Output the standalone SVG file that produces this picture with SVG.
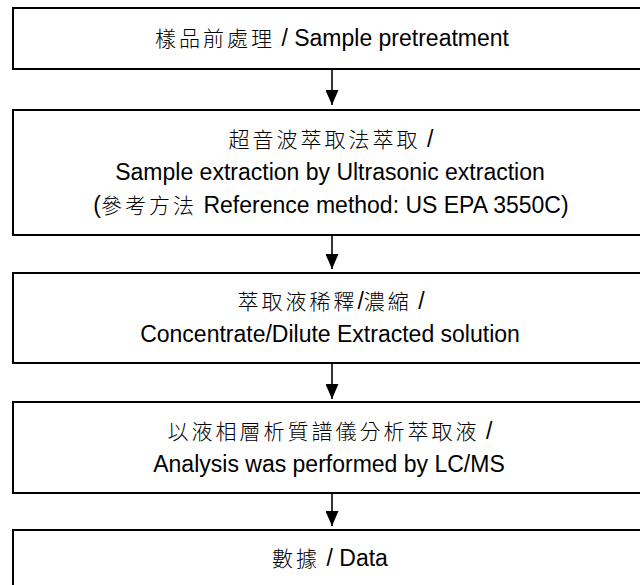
<svg xmlns="http://www.w3.org/2000/svg" width="640" height="585" viewBox="0 0 640 585">
<style>
.box{fill:#fff;stroke:#000;stroke-width:2}
.t{font-family:"Liberation Sans",Arial,"Noto Sans CJK TC",sans-serif;font-size:23px;fill:#000;text-anchor:middle}
.c{font-family:"Noto Sans CJK TC","Noto Sans CJK SC",sans-serif;font-size:21px;letter-spacing:3px;font-weight:300}
.ln{stroke:#000;stroke-width:1.6;fill:none}
</style>
<defs>
<marker id="ah" viewBox="0 0 15 13" refX="15" refY="6.5" markerWidth="15" markerHeight="13" markerUnits="userSpaceOnUse" orient="auto">
<path d="M0,0 L15,6.5 L0,13 Z" fill="#000"/>
</marker>
</defs>
<rect width="640" height="585" fill="#fff"/>
<g id="n1">
<rect class="box" x="13" y="8" width="640" height="61"/>
<text class="t" x="332" y="46"><tspan class="c">樣品前處理</tspan> / Sample pretreatment</text>
</g>
<g id="n2">
<rect class="box" x="13" y="110" width="640" height="125"/>
<text class="t" x="331" y="147"><tspan class="c">超音波萃取法萃取</tspan> /</text>
<text class="t" x="330" y="180">Sample extraction by Ultrasonic extraction</text>
<text class="t" x="331" y="213">(<tspan class="c">參考方法</tspan> Reference method: US EPA 3550C)</text>
</g>
<g id="n3">
<rect class="box" x="13" y="273" width="640" height="90"/>
<text class="t" x="331" y="309"><tspan class="c">萃取液稀釋</tspan>/<tspan class="c">濃縮</tspan> /</text>
<text class="t" x="330" y="342">Concentrate/Dilute Extracted solution</text>
</g>
<g id="n4">
<rect class="box" x="13" y="402" width="640" height="91"/>
<text class="t" x="330" y="439"><tspan class="c">以液相層析質譜儀分析萃取液</tspan> /</text>
<text class="t" x="329" y="472">Analysis was performed by LC/MS</text>
</g>
<g id="n5">
<rect class="box" x="13" y="530" width="640" height="80"/>
<text class="t" x="330" y="566"><tspan class="c">數據</tspan> / Data</text>
</g>
<g id="connectors">
<line class="ln" x1="332" y1="69" x2="332" y2="105" marker-end="url(#ah)"/>
<line class="ln" x1="332" y1="235" x2="332" y2="269" marker-end="url(#ah)"/>
<line class="ln" x1="332" y1="363" x2="332" y2="399" marker-end="url(#ah)"/>
<line class="ln" x1="332" y1="493" x2="332" y2="526" marker-end="url(#ah)"/>
</g>
</svg>
